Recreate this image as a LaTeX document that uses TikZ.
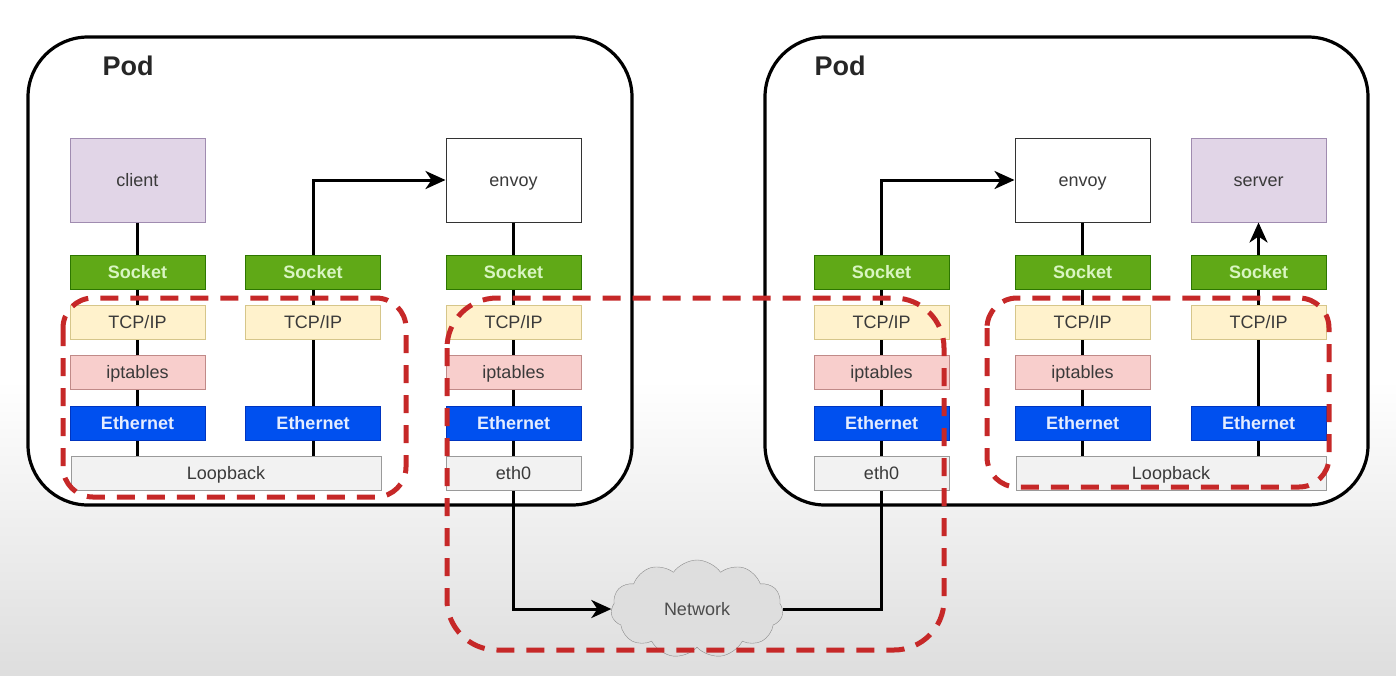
\documentclass[tikz,border=0pt]{standalone}
\usepackage{fontspec}
\setmainfont{Liberation Sans}
\usetikzlibrary{shapes.symbols,arrows.meta}
\definecolor{purpleF}{HTML}{E1D5E7}\definecolor{purpleD}{HTML}{A08CB0}
\definecolor{sockF}{HTML}{60A917}\definecolor{sockD}{HTML}{2D7600}\definecolor{sockT}{HTML}{D9F5C2}
\definecolor{tcpF}{HTML}{FFF2CC}\definecolor{tcpD}{HTML}{D6C68A}
\definecolor{ipF}{HTML}{F8CECC}\definecolor{ipD}{HTML}{C08A88}
\definecolor{ethF}{HTML}{0050EF}\definecolor{ethD}{HTML}{0035C0}\definecolor{ethT}{HTML}{E4ECFF}
\definecolor{lbF}{HTML}{F2F2F2}\definecolor{lbD}{HTML}{9A9A9A}
\definecolor{redD}{HTML}{C62828}
\definecolor{txt}{HTML}{3A3A3A}
\tikzset{
  layer/.style={minimum width=135pt, minimum height=34pt, inner sep=0pt, line width=1pt, text=txt,
    text height=12.5pt, text depth=0pt, font=\fontsize{18}{18}\selectfont},
  appbox/.style={layer, minimum height=84pt, fill=purpleF, draw=purpleD},
  envbox/.style={layer, minimum height=84pt, fill=white, draw=black!80},
  sockbox/.style={layer, fill=sockF, draw=sockD, text=sockT, font=\bfseries\fontsize{18}{18}\selectfont},
  tcpbox/.style={layer, fill=tcpF, draw=tcpD},
  ipbox/.style={layer, fill=ipF, draw=ipD},
  ethbox/.style={layer, fill=ethF, draw=ethD, text=ethT, font=\bfseries\fontsize{18}{18}\selectfont},
  lbbox/.style={layer, fill=lbF, draw=lbD},
  podbox/.style={draw=black, line width=3.2pt, fill=white, rounded corners=60pt},
  podlabel/.style={font=\bfseries\fontsize{27}{27}\selectfont, text=black!85},
  wire/.style={line width=3pt, draw=black},
  arr/.style={wire, -{Stealth[length=20pt,width=18pt,inset=6pt]}},
  reddash/.style={draw=redD, line width=5pt, dash pattern=on 18pt off 12pt},
}
\begin{document}
\begin{tikzpicture}[x=1pt,y=-1pt]
\useasboundingbox (0,0) rectangle (1396,675);
\fill[white] (0,0) rectangle (1396,675);
\shade[top color=white, bottom color=black!13] (0,380) rectangle (1396,675);

% pods
\draw[podbox] (28,37) rectangle (632,505);
\draw[podbox] (765,37) rectangle (1368,505);
\node[podlabel] (podL) at (128,66) {Pod};
\node[podlabel] (podR) at (840,66) {Pod};

% application boxes
\node[appbox] (client) at (137.5,180) {client};
\node[envbox] (envL) at (513.5,180) {envoy};
\node[envbox] (envR) at (1082.5,180) {envoy};
\node[appbox] (server) at (1258.5,180) {server};

% named points where the wires meet the lower boxes
\coordinate (pA) at (137.5,456);
\coordinate (pB) at (313,456);
\coordinate (pC) at (513.5,456);
\coordinate (pE) at (1082.5,456);
\coordinate (pF) at (1258.5,456);
\coordinate (pCb) at (513.5,490);

% network cloud
\node[cloud, cloud puffs=11, cloud puff arc=110, aspect=1.9, draw=black!45, fill=black!13,
      minimum width=172pt, minimum height=98pt, inner sep=0pt, text=black!70,
      font=\fontsize{18}{18}\selectfont] (net) at (697,609) {Network};
\coordinate (bendD) at (881.5,180);

% wires (behind the layer boxes)
\draw[wire] (client.south) -- (pA);
\draw[arr] (pB) |- (envL.west);
\draw[wire] (envL.south) -- (pC);
\draw[arr] (pCb) |- (net.west);
\draw[arr] (net.east) -| (bendD) -- (envR.west);
\draw[wire] (envR.south) -- (pE);
\draw[arr] (pF) -- (server.south);

% layer boxes
\foreach \x/\n in {137.5/a,313/b,513.5/c,881.5/d,1082.5/e,1258.5/f}{
  \node[sockbox] (sock\n) at (\x,272) {Socket};
  \node[tcpbox] (tcp\n) at (\x,322) {TCP/IP};
  \node[ethbox] (eth\n) at (\x,423) {Ethernet};
}
\foreach \x/\n in {137.5/a,513.5/c,881.5/d,1082.5/e}{
  \node[ipbox] (ipt\n) at (\x,372.5) {iptables};
}
\node[lbbox, minimum width=310pt] (loopL) at (226,473) {Loopback};
\node[lbbox, minimum width=310pt] (loopR) at (1171,473) {Loopback};
\node[lbbox] (eth0L) at (513.5,473) {eth0};
\node[lbbox] (eth0R) at (881.5,473) {eth0};

% red dashed regions
\draw[reddash, rounded corners=30pt] (63,298) rectangle (406,497);
\draw[reddash, rounded corners=50pt] (447,298) rectangle (944,650);
\draw[reddash, rounded corners=30pt] (987,298) rectangle (1329,487);

\end{tikzpicture}
\end{document}
